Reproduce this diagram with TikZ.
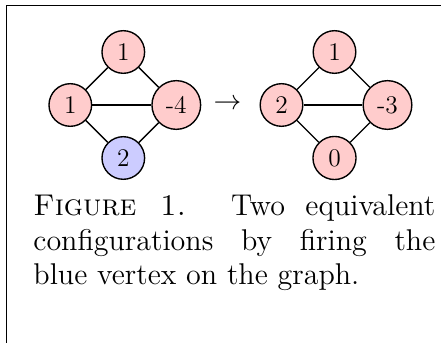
\documentclass[tikz,border=0pt]{standalone}
\usepackage{fontspec}
\usepackage{amsmath}
\tikzset{
  site/.style={circle, draw, semithick, fill=red!20,
               font=\fontsize{11}{13}\selectfont},
  fired/.style={site, fill=blue!20},
}
\begin{document}
\begin{tikzpicture}[x=0.4329pt, y=-0.4329pt]
    \useasboundingbox (0,0) rectangle (441,343);

    \def\D{53}       
    \def\XL{123.3}   
    \def\XR{334.5}   
    \def\Y{105}      

    % frame
    \coordinate (corner) at (6.5, 5.5);
    \coordinate (topend) at (441, 5.5);
    \coordinate (leftend) at (6.5, 343);
    \draw (topend) -- (corner) -- (leftend);

    % before firing
    \node[site] (top1) at (\XL, \Y-\D) {1};
    \node[site] (left1) at (\XL-\D, \Y) {1};
    \node[site] (right1) at (\XL+\D, \Y) {-4};
    \node[fired] (bot1) at (\XL, \Y+\D) {2};

    \draw[semithick] (top1) -- (left1);
    \draw[semithick] (top1) -- (right1);
    \draw[semithick] (left1) -- (right1);
    \draw[semithick] (left1) -- (bot1);
    \draw[semithick] (right1) -- (bot1);

    \node[font=\fontsize{12.5}{15}\selectfont] (fire) at (227.5, \Y-1) {$\rightarrow$};

    % after firing
    \node[site] (top2) at (\XR, \Y-\D) {1};
    \node[site] (left2) at (\XR-\D, \Y) {2};
    \node[site] (right2) at (\XR+\D, \Y) {-3};
    \node[site] (bot2) at (\XR, \Y+\D) {0};

    \draw[semithick] (top2) -- (left2);
    \draw[semithick] (top2) -- (right2);
    \draw[semithick] (left2) -- (right2);
    \draw[semithick] (left2) -- (bot2);
    \draw[semithick] (right2) -- (bot2);

    \node[anchor=base west, inner sep=0pt, text width=174pt, align=justify,
          font=\fontsize{13}{15}\selectfont] (caption) at (33, 215.7)
        {{\scshape Figure 1.} Two equivalent\linebreak configurations by firing the\linebreak blue vertex on the graph.};

\end{tikzpicture}
\end{document}
